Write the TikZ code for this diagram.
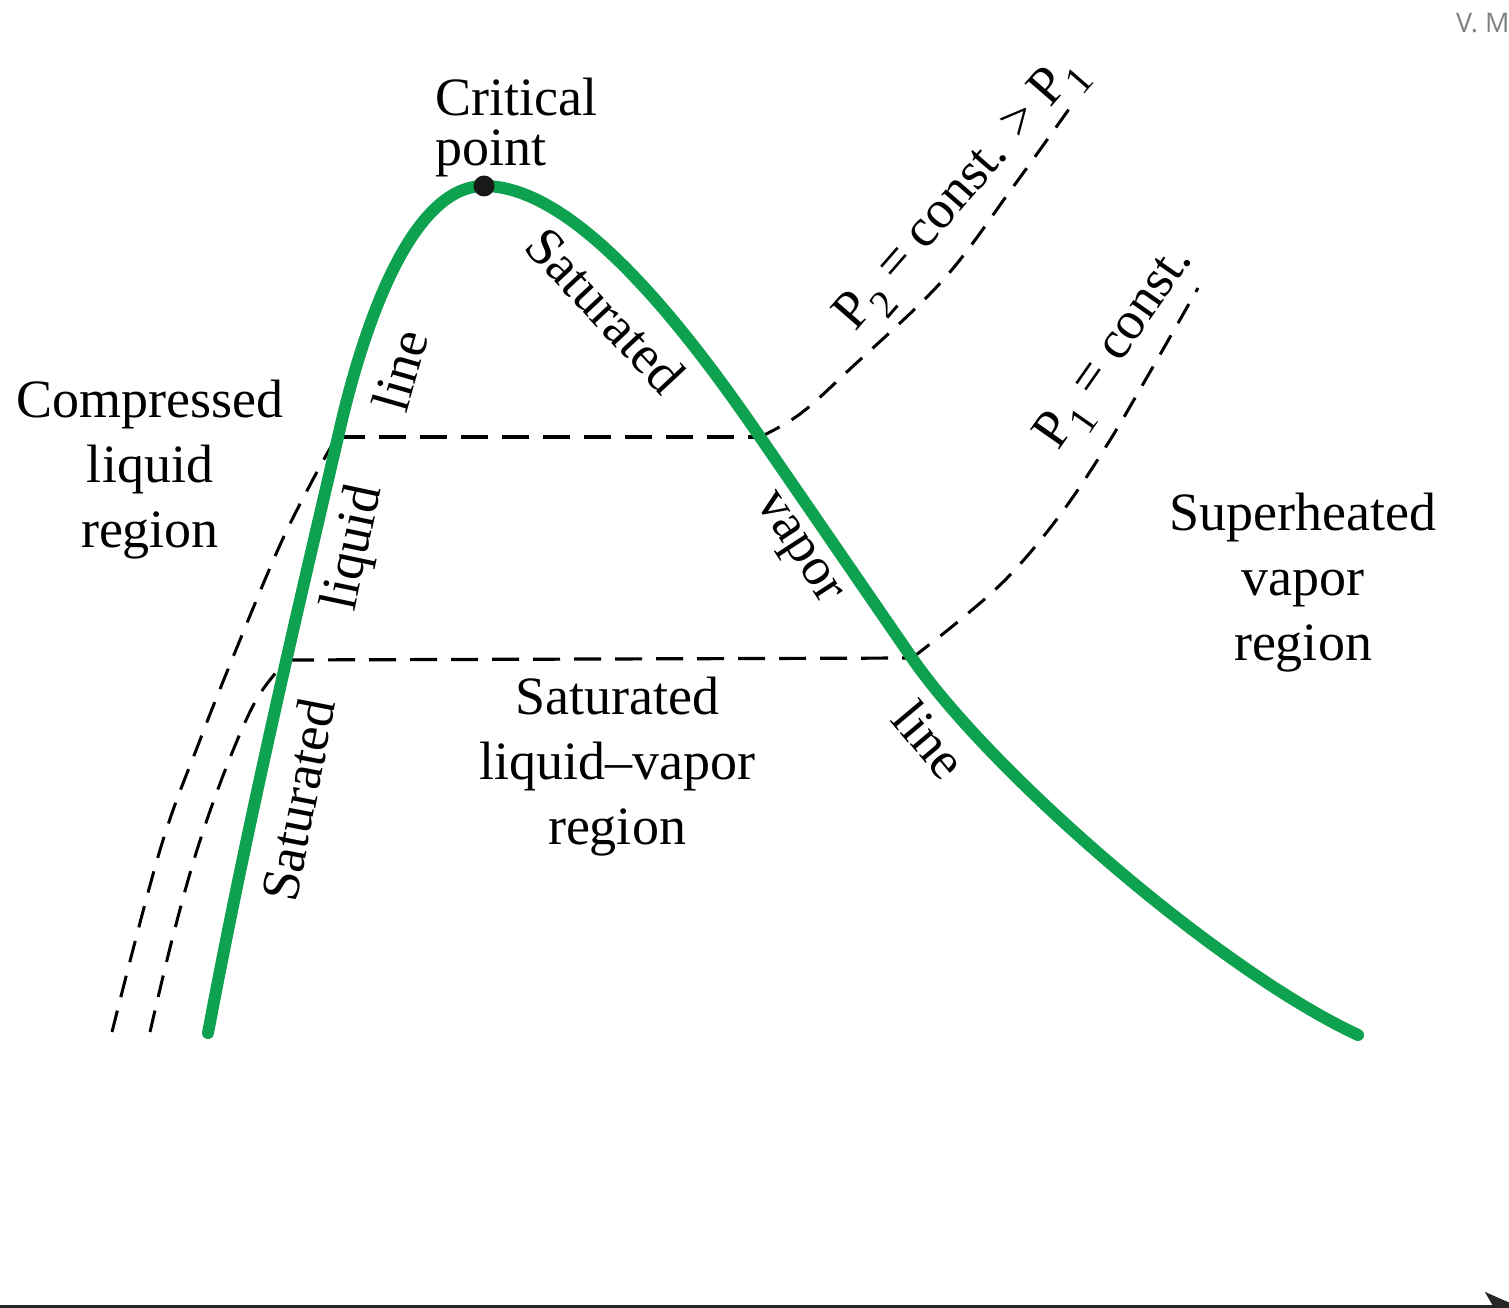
\documentclass[tikz,border=0pt]{standalone}
\usepackage{fontspec}
\setmainfont{Liberation Serif}
\newfontfamily\markfont{Open Sans}
\usetikzlibrary{arrows.meta}
\definecolor{satgreen}{RGB}{14,162,80}
\tikzset{
  satline/.style={draw=satgreen, line width=12pt, line cap=round, line join=round},
  isobar/.style={draw=black, line width=3pt, dash pattern=on 22pt off 14pt},
  isoflat/.style={draw=black, line width=3.2pt, dash pattern=on 27pt off 14pt},
  lbl/.style={inner sep=0pt, align=center, font=\fontsize{54}{65}\selectfont},
}
\newcommand{\subsc}[1]{\raisebox{-0.3em}{\fontsize{40}{40}\selectfont #1}}
\begin{document}
\begin{tikzpicture}[x=1pt,y=-1pt]
\useasboundingbox (0,0) rectangle (1509,1308);
\clip (0,0) rectangle (1509,1308);
\fill[white] (0,0) rectangle (1509,1308);

% named points
\coordinate (cp) at (484,186);
\coordinate (l2) at (338,437);
\coordinate (v2) at (760,437);
\coordinate (l1) at (287,660);
\coordinate (v1) at (912,658);
\coordinate (sl0) at (208,1033);
\coordinate (sv0) at (1358,1035);

% isobars (dashed)
\draw[isoflat] (l2) -- (v2);
\draw[isoflat] (l1) -- (v1);
\draw[isobar] plot[smooth, tension=0.6] coordinates {(v2) (800,414) (850,369) (943,280) (1013,187) (1074,102)};
\draw[isobar] plot[smooth, tension=0.6] coordinates {(v1) (960,620) (1010,575) (1060,515) (1107,445) (1150,372) (1198,288)};
\draw[isobar] plot[smooth, tension=0.6] coordinates {(112,1032) (160,850) (200,740) (240,640) (280,545) (310,485) (332,445)};
\draw[isobar] plot[smooth, tension=0.6] coordinates {(150,1032) (172,940) (197,850) (226,768) (255,702) (280,668)};

% saturation dome
\draw[satline] (sl0) .. controls (250,810) and (300,600) .. (l2)
  .. controls (362,330) and (410,186) .. (cp)
  .. controls (575,186) and (684,326) .. (v2)
  .. controls (811,511) and (861,584) .. (v1)
  .. controls (990,771) and (1215,968) .. (sv0);

\fill[black!90] (cp) circle (10.5pt);

% labels
\node[lbl, anchor=north west, align=left, font=\fontsize{54}{50}\selectfont] (crit) at (435,78) {Critical\\point};
\node[lbl] (comp) at (150,470) {Compressed\\liquid\\region};
\node[lbl] (sup) at (1303,583) {Superheated\\vapor\\region};
\node[lbl] (mix) at (617,767) {Saturated\\liquid--vapor\\region};

\node[lbl, rotate=79] (sl1) at (298,800) {Saturated};
\node[lbl, rotate=78] (sl2) at (355,548) {liquid};
\node[lbl, rotate=74] (sl3) at (400,370) {line};

\node[lbl, rotate=-47] (sv1) at (606,310) {Saturated};
\node[lbl, rotate=-57] (sv2) at (795,550) {vapor};
\node[lbl, rotate=-50] (sv3) at (930,740) {line};

\node[lbl, rotate=49] (p2) at (962,195) {P\subsc{2} = const. > P\subsc{1}};
\node[lbl, rotate=55] (p1) at (1118,350) {P\subsc{1} = const.};

% axis at bottom
\coordinate (ax0) at (0,1306);
\coordinate (ax1) at (1517,1306);
\draw[line width=3pt, black!85, -{Stealth[length=32pt,width=28pt,inset=8pt]}] (ax0) -- (ax1);

\node[anchor=base west, inner sep=0pt, text=black!50, font=\markfont\fontsize{27}{27}\selectfont] (vm) at (1456,33) {V. M};
\end{tikzpicture}
\end{document}
